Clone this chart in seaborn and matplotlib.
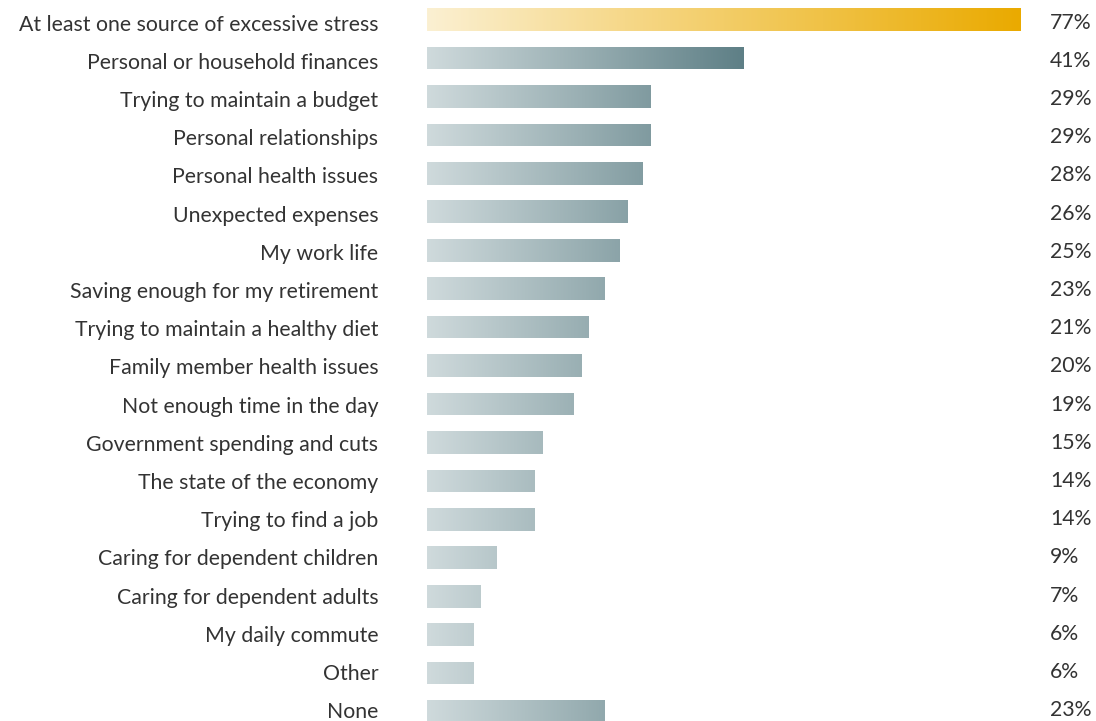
import matplotlib
matplotlib.use("Agg")
import matplotlib.pyplot as plt
import matplotlib.transforms as mtransforms
import seaborn as sns
import numpy as np
import pandas as pd
from matplotlib.colors import LinearSegmentedColormap

categories = [
    "At least one source of excessive stress",
    "Personal or household finances",
    "Trying to maintain a budget",
    "Personal relationships",
    "Personal health issues",
    "Unexpected expenses",
    "My work life",
    "Saving enough for my retirement",
    "Trying to maintain a healthy diet",
    "Family member health issues",
    "Not enough time in the day",
    "Government spending and cuts",
    "The state of the economy",
    "Trying to find a job",
    "Caring for dependent children",
    "Caring for dependent adults",
    "My daily commute",
    "Other",
    "None",
]
values = [77, 41, 29, 29, 28, 26, 25, 23, 21, 20, 19, 15, 14, 14, 9, 7, 6, 6, 23]
groups = ["total"] + ["item"] * (len(categories) - 1)

df = pd.DataFrame({"category": categories, "value": values, "group": groups})

sns.set_theme(style="white")
plt.rcParams["font.family"] = ["Lato", "DejaVu Sans"]

W, H = 1096, 721
fig = plt.figure(figsize=(W / 100, H / 100), dpi=100)
x0 = 427
px_per = 7.714
ax = fig.add_axes([x0 / W, 0, 1 - x0 / W, 1])

sns.barplot(data=df, x="value", y="category", hue="group", dodge=False,
            palette={"total": "#F0C040", "item": "#9AB0B5"}, legend=False,
            width=0.59, ax=ax, saturation=1)

xmax = (W - x0) / px_per
row_gap = 38.45
ylims = ((H - 19.5) / row_gap, -19.5 / row_gap)

gold = LinearSegmentedColormap.from_list("gold", ["#FBF0D2", "#F6D889", "#F0C246", "#EAAA00"])
grey = LinearSegmentedColormap.from_list("grey", ["#CFDADC", "#98AEB2", "#5E7F86"])
grad = np.linspace(0, 1, 256).reshape(1, -1)
gray_max = max(values[1:])

for i, patch in enumerate(ax.patches[:len(values)]):
    y = patch.get_y()
    h = patch.get_height()
    if patch.get_width() <= 0:
        continue
    if groups[i] == "total":
        cmap, gmax = gold, values[0]
    else:
        cmap, gmax = grey, gray_max
    im = ax.imshow(grad, cmap=cmap, aspect="auto", extent=[0, gmax, y + h, y],
                   zorder=patch.get_zorder() + 0.1, interpolation="bilinear")
    im.set_clip_path(patch)
    patch.set_edgecolor("none")

ax.set_ylim(*ylims)
ax.set_xlim(0, xmax)

n = len(values)


def row_offset(i):
    px = 3.0 - 4.5 * i / (n - 1)
    return mtransforms.ScaledTranslation(0, -px / 100, fig.dpi_scale_trans)


label_x = (1050 - x0) / px_per
for i, v in enumerate(values):
    ax.text(label_x, i, f"{v}%", ha="left", va="center", fontsize=15.3,
            color="#333333", clip_on=False, transform=ax.transData + row_offset(i))

ax.set_xlabel("")
ax.set_ylabel("")
ax.set_xticks([])
ax.tick_params(axis="y", length=0, pad=35, labelsize=15.3, labelcolor="#333333")
for i, lbl in enumerate(ax.get_yticklabels()):
    lbl.set_transform(lbl.get_transform() + row_offset(i))
for s in ax.spines.values():
    s.set_visible(False)

fig.savefig("out.png", dpi=100)
